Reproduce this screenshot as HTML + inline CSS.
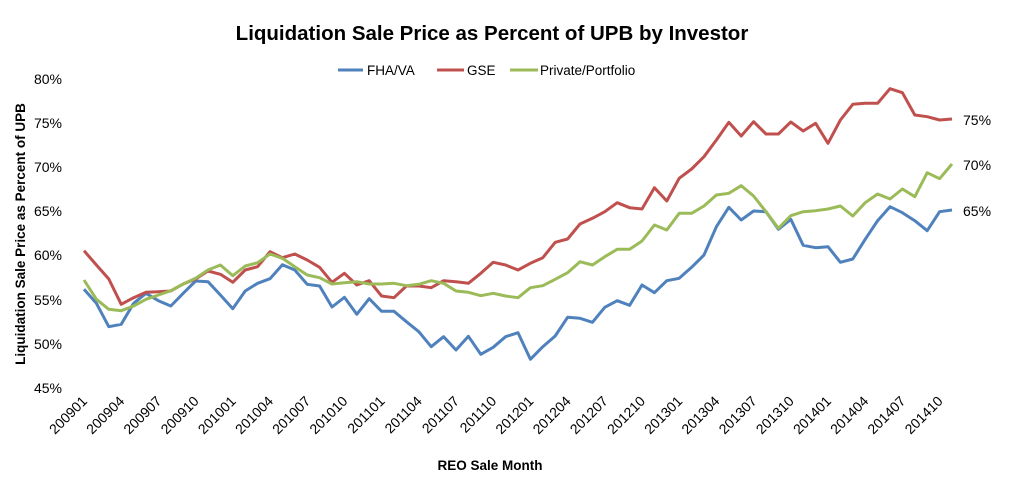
<!DOCTYPE html>
<html><head><meta charset="utf-8"><style>
body{margin:0;background:#fff;}
svg text{font-family:"Liberation Sans",sans-serif;fill:#000;}
</style></head><body>
<svg id="s" width="1018" height="489" xmlns="http://www.w3.org/2000/svg">
<rect width="1018" height="489" fill="#fff"/>
<text x="492" y="40" text-anchor="middle" font-size="20.5" font-weight="bold">Liquidation Sale Price as Percent of UPB by Investor</text>
<line x1="338" y1="70" x2="363" y2="70" stroke="#4f81bd" stroke-width="3"/>
<text x="367" y="75" font-size="13.5">FHA/VA</text>
<line x1="437" y1="70" x2="464" y2="70" stroke="#c0504d" stroke-width="3"/>
<text x="467" y="75" font-size="13.5">GSE</text>
<line x1="510" y1="70" x2="538" y2="70" stroke="#9bbb59" stroke-width="3"/>
<text x="540" y="75" font-size="13.5">Private/Portfolio</text>
<g font-size="14" text-anchor="end">
<text x="62" y="84">80%</text><text x="62" y="128">75%</text><text x="62" y="172">70%</text><text x="62" y="216">65%</text><text x="62" y="260">60%</text><text x="62" y="305">55%</text><text x="62" y="349">50%</text><text x="62" y="393">45%</text>
</g>
<text transform="translate(25,234) rotate(-90)" text-anchor="middle" font-size="13.5" font-weight="bold">Liquidation Sale Price as Percent of UPB</text>
<text x="490" y="470" text-anchor="middle" font-size="13.5" font-weight="bold">REO Sale Month</text>
<g font-size="14">
<text x="963" y="125">75%</text><text x="963" y="170">70%</text><text x="963" y="216">65%</text>
</g>
<g id="xl" font-size="14" text-anchor="end"></g>
<g id="lines"></g>
</svg>
<script>
var blue=[688,730,800,793,730,700,722,738,700,663,665,705,746,693,670,656,614,630,673,678,741,712,763,716,754,754,785,815,860,830,870,829,883,862,830,818,898,860,828,772,775,787,742,722,736,675,698,662,655,622,585,500,442,480,453,455,508,478,556,563,560,607,597,538,482,440,458,482,512,455,450];
var red=[572,615,657,733,713,697,695,693,672,657,633,643,667,630,620,575,593,582,600,622,667,640,675,662,708,713,678,678,683,662,665,670,640,607,615,630,610,593,547,537,492,475,455,428,443,447,383,423,355,327,290,240,187,228,185,222,222,186,213,190,250,180,133,130,130,86,98,165,170,180,177];
var green=[660,718,748,752,738,718,705,692,672,655,630,615,647,618,608,582,595,620,645,653,672,668,665,672,672,670,677,673,662,670,693,697,707,700,708,713,683,677,658,638,605,615,590,568,568,543,495,510,460,460,438,405,400,377,408,455,505,467,455,452,447,438,468,428,402,417,387,410,338,356,312];
var NS="http://www.w3.org/2000/svg",L=document.getElementById('lines');
function pl(d,c){var p=[];for(var i=0;i<d.length;i++)p.push((84+12.4*i).toFixed(1)+','+(60+d[i]/3).toFixed(1));
var e=document.createElementNS(NS,'polyline');e.setAttribute('points',p.join(' '));e.setAttribute('fill','none');e.setAttribute('stroke',c);e.setAttribute('stroke-width','3');e.setAttribute('stroke-linejoin','round');L.appendChild(e);}
pl(blue,'#4f81bd');pl(red,'#c0504d');pl(green,'#9bbb59');
var X=document.getElementById('xl');
for(var k=0;k<24;k++){var i=3*k;var y=2009+Math.floor(i/12),m=i%12+1;
var t=document.createElementNS(NS,'text');var x=84+12.4*i+4;
t.setAttribute('transform','translate('+x+',402) rotate(-45)');t.textContent=y+(m<10?'0':'')+m;X.appendChild(t);}
</script>
</body></html>
